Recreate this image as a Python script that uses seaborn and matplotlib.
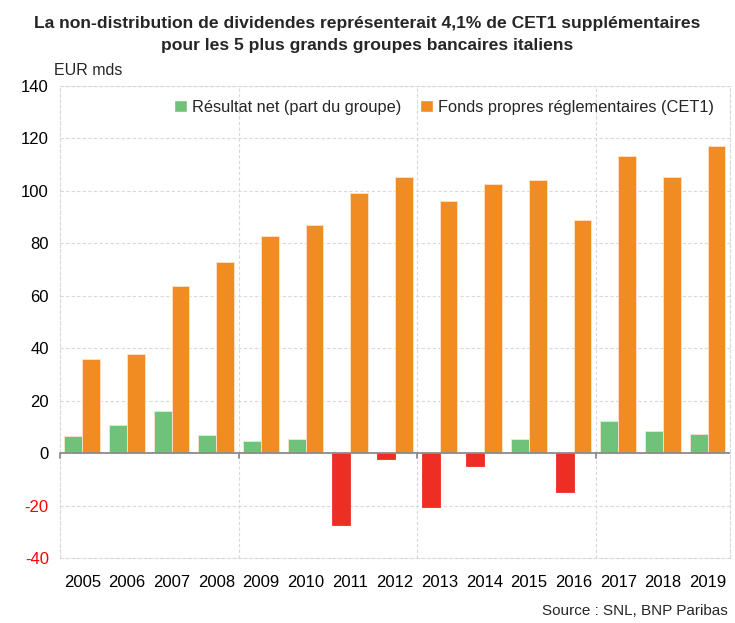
import numpy as np
import pandas as pd
import seaborn as sns
import matplotlib.pyplot as plt
from matplotlib.patches import Patch

years = [str(y) for y in range(2005, 2020)]
net_income = [6.7, 10.8, 16.0, 7.1, 4.8, 5.3, -27.4, -2.4, -20.5, -4.9, 5.5, -15.0, 12.4, 8.5, 7.2]
cet1 = [35.8, 37.9, 63.6, 72.9, 82.7, 87.0, 99.2, 105.2, 96.3, 102.5, 104.3, 88.8, 113.2, 105.2, 117.1]
net_label = 'Résultat net (part du groupe)'
cet1_label = 'Fonds propres réglementaires (CET1)'

green = '#70C27A'
orange = '#F08C22'
red = '#EE2E24'

df = pd.DataFrame({
    'year': years * 2,
    'value': net_income + cet1,
    'serie': [net_label] * len(years) + [cet1_label] * len(years),
})

sns.set_style('white')
plt.rcParams['font.family'] = ['Liberation Sans', 'DejaVu Sans']
plt.rcParams['axes.unicode_minus'] = False

fig = plt.figure(figsize=(7.35, 6.23), dpi=100)
ax = fig.add_axes([0.0816, 0.1043, 0.9114, 0.7577])

sns.barplot(data=df, x='year', y='value', hue='serie', hue_order=[net_label, cet1_label],
            palette=[green, orange], saturation=1, width=0.8, edgecolor='#FBE3CC',
            linewidth=0.6, ax=ax, legend=False)

# negative net income bars in red
for bar, v in zip(ax.containers[0], net_income):
    if v < 0:
        bar.set_facecolor(red)
        bar.set_edgecolor(red)

ax.set_ylim(-40, 140)
ax.set_xlim(-0.5, len(years) - 0.5)
ax.set_yticks(np.arange(-40, 141, 20))
ax.set_xticks(range(len(years)), labels=years)
ax.set_xticks([3.5, 7.5, 11.5], minor=True)
ax.set_xlabel('')
ax.set_ylabel('')
ax.tick_params(axis='both', which='both', length=0, labelsize=12, colors='black')
ax.tick_params(axis='x', pad=12)
ax.tick_params(axis='y', pad=8)
for lbl, t in zip(ax.get_yticklabels(), ax.get_yticks()):
    if t < 0:
        lbl.set_color('#FF0000')

ax.grid(axis='y', which='major', color='#D9D9D9', linestyle=(0, (3, 2)), linewidth=0.8)
ax.grid(axis='x', which='minor', color='#D9D9D9', linestyle=(0, (3, 2)), linewidth=0.8)
ax.set_axisbelow(True)
for side in ['left', 'right', 'top', 'bottom']:
    ax.spines[side].set_visible(True)
    ax.spines[side].set_color('#D9D9D9')
    ax.spines[side].set_linestyle((0, (3, 2)))
    ax.spines[side].set_linewidth(0.8)

# zero line with small ticks at the group separators
ax.axhline(0, color='#8C8C8C', linewidth=1.3, zorder=3)
for x in [-0.5, 3.5, 7.5, 11.5]:
    ax.plot([x, x], [0, -1.8], color='#8C8C8C', linewidth=1.3, zorder=3, clip_on=False)

handles = [Patch(facecolor=green, label=net_label), Patch(facecolor=orange, label=cet1_label)]
ax.legend(handles=handles, loc='center', bbox_to_anchor=(0.573, 0.955), ncol=2, frameon=False,
          fontsize=11.8, handlelength=0.8, handleheight=0.8, handletextpad=0.3, columnspacing=1.1)

fig.text(0.5, 0.974, 'La non-distribution de dividendes représenterait 4,1% de CET1 supplémentaires\n'
         'pour les 5 plus grands groupes bancaires italiens',
         ha='center', va='top', fontsize=12.6, fontweight='bold', linespacing=1.55)
fig.text(0.073, 0.887, 'EUR mds', ha='left', va='center', fontsize=11.5)
fig.text(0.99, 0.02, 'Source : SNL, BNP Paribas', ha='right', va='center', fontsize=11)

fig.savefig('out.png', dpi=100)
